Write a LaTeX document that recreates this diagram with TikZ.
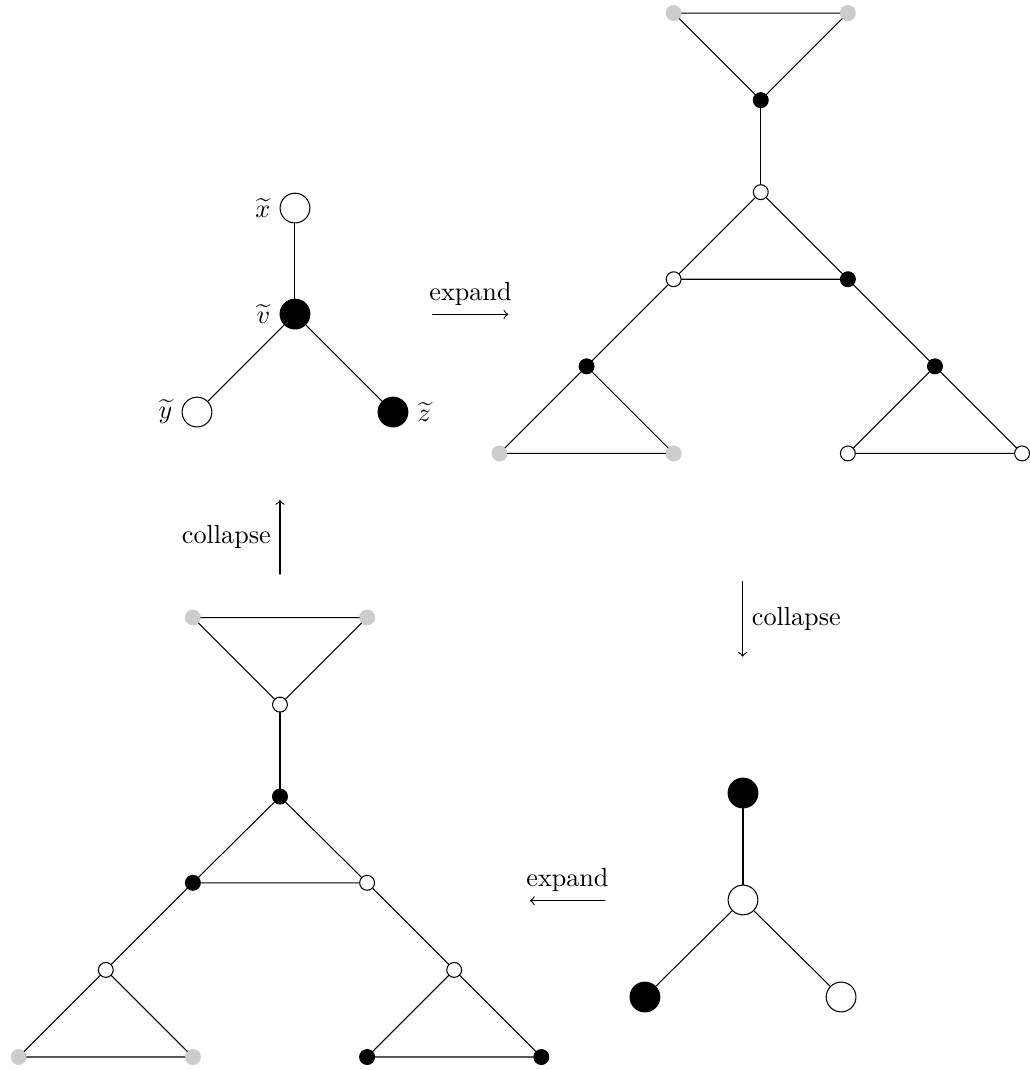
\documentclass[tikz,border=0pt]{standalone}
\usepackage{amssymb}
\usepackage{amsmath}
\usepackage{tikz}
\usetikzlibrary{arrows}
\definecolor{cccccc}{rgb}{0.8,0.8,0.8}
\tikzset{
bigw/.style={circle,draw,fill=white,inner sep=0pt,minimum size=4mm},
bigb/.style={circle,draw,fill=black,inner sep=0pt,minimum size=4mm},
smw/.style={circle,draw,fill=white,inner sep=0pt,minimum size=2mm},
smb/.style={circle,draw,fill=black,inner sep=0pt,minimum size=2mm},
smg/.style={circle,draw=cccccc,fill=cccccc,inner sep=0pt,minimum size=2mm}
}

\begin{document}
\begin{tikzpicture}[line cap=round,line join=round,>=to,x=1.17cm,y=1.17cm]
\useasboundingbox (-0.2147,-0.149) rectangle (11.611,12.136);
\node [bigw,label=left:{$\widetilde{x}$}] (xt) at (3.172,9.747) {};
\node [bigb,label=left:{$\widetilde{v}$}] (vt) at (3.172,8.53) {};
\node [bigw,label=left:{$\widetilde{y}$}] (yt) at (2.047,7.405) {};
\node [bigb,label=right:{$\widetilde{z}$}] (zt) at (4.297,7.405) {};
\draw [line width=0.4pt] (xt) -- (vt);
\draw [line width=0.4pt] (vt) -- (yt);
\draw [line width=0.4pt] (vt) -- (zt);
\node [smg] (r1) at (5.52,6.93) {};
\node [smg] (r2) at (7.52,6.93) {};
\node [smw] (r3) at (9.52,6.93) {};
\node [smw] (r4) at (11.52,6.93) {};
\node [smb] (r5) at (6.52,7.93) {};
\node [smb] (r6) at (10.52,7.93) {};
\node [smw] (r7) at (7.52,8.93) {};
\node [smb] (r8) at (9.52,8.93) {};
\node [smw] (r9) at (8.52,9.93) {};
\node [smb] (r10) at (8.52,10.986) {};
\node [smg] (r11) at (7.52,11.986) {};
\node [smg] (r12) at (9.52,11.986) {};
\draw [line width=0.4pt] (r11) -- (r12) -- (r10) -- (r11);
\draw [line width=0.4pt] (r10) -- (r9);
\draw [line width=0.4pt] (r9) -- (r7) -- (r8) -- (r9);
\draw [line width=0.4pt] (r7) -- (r5);
\draw [line width=0.4pt] (r8) -- (r6);
\draw [line width=0.4pt] (r5) -- (r1) -- (r2) -- (r5);
\draw [line width=0.4pt] (r6) -- (r3) -- (r4) -- (r6);
\node [smg] (l1) at (0.,0.) {};
\node [smg] (l2) at (2.,0.) {};
\node [smb] (l3) at (4.,0.) {};
\node [smb] (l4) at (6.,0.) {};
\node [smw] (l5) at (1.,1.) {};
\node [smw] (l6) at (5.,1.) {};
\node [smb] (l7) at (2.,2.) {};
\node [smw] (l8) at (4.,2.) {};
\node [smb] (l9) at (3.,2.99) {};
\node [smw] (l10) at (3.,4.046) {};
\node [smg] (l11) at (2.,5.046) {};
\node [smg] (l12) at (4.,5.046) {};
\draw [line width=0.4pt] (l11) -- (l12) -- (l10) -- (l11);
\draw [line width=0.4pt] (l10) -- (l9);
\draw [line width=0.4pt] (l9) -- (l7) -- (l8) -- (l9);
\draw [line width=0.4pt] (l7) -- (l5);
\draw [line width=0.4pt] (l8) -- (l6);
\draw [line width=0.4pt] (l5) -- (l1) -- (l2) -- (l5);
\draw [line width=0.4pt] (l6) -- (l3) -- (l4) -- (l6);
\node [bigb] (ct) at (8.316,3.031) {};
\node [bigw] (cv) at (8.316,1.803) {};
\node [bigb] (cy) at (7.19,0.689) {};
\node [bigw] (cz) at (9.442,0.689) {};
\draw [line width=0.4pt] (ct) -- (cv);
\draw [line width=0.4pt] (cv) -- (cy);
\draw [line width=0.4pt] (cv) -- (cz);
\coordinate (e1) at (4.753,8.527);
\coordinate (e2) at (5.621,8.527);
\coordinate (c1) at (8.312,5.457);
\coordinate (c2) at (8.312,4.596);
\coordinate (e3) at (6.731,1.794);
\coordinate (e4) at (5.87,1.794);
\coordinate (c3) at (3.,5.545);
\coordinate (c4) at (3.,6.395);
\draw [->,line width=0.4pt] (e1) -- (e2) node [midway,above] {expand};
\draw [->,line width=0.4pt] (c1) -- (c2) node [midway,right] {collapse};
\draw [->,line width=0.4pt] (e3) -- (e4) node [midway,above] {expand};
\draw [->,line width=0.4pt] (c3) -- (c4) node [midway,left] {collapse};
\end{tikzpicture}
\end{document}
